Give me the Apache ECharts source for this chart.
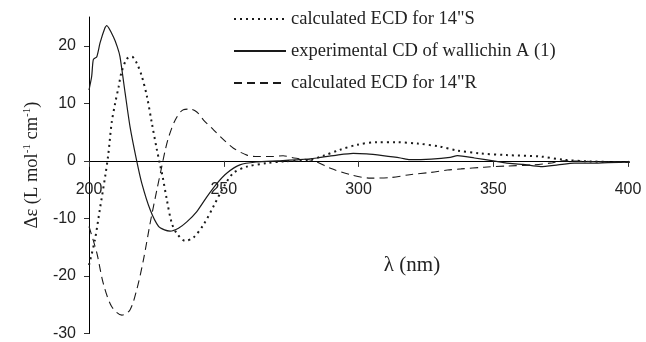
<!DOCTYPE html>
<html>
<head>
<meta charset="utf-8">
<script src="https://cdn.jsdelivr.net/npm/echarts@6/dist/echarts.min.js"></script>
<style>html,body{margin:0;padding:0;background:#fff;}#c{width:646px;height:342px;}</style>
</head>
<body>
<div id="c"></div>
<script>
// ---- data ----
var seriesNames = ['calculated ECD for 14"S', 'experimental CD of wallichin A (1)', 'calculated ECD for 14"R'];
var xTicks = [200, 250, 300, 350, 400];
var yTicks = [-30, -20, -10, 0, 10, 20];

var expX = [200, 201, 201.6, 202.9, 204.1, 205.9, 206.6, 209, 210.5, 211.5, 213.4, 215.2, 217.7, 219.6, 222.7, 225.8, 228, 230.1, 233.2, 236.3, 240, 243.8, 247.5, 251.2, 256, 262, 270, 278, 284.6, 292, 298, 303, 309, 315.6, 319, 327, 334, 336.7, 343, 350, 355, 361, 367.6, 374, 380, 386, 392.5, 401];
var expY = [12.3, 14.7, 17.6, 18.1, 20.5, 23.1, 23.5, 21.6, 19.8, 18.1, 11.8, 6.0, 0.0, -3.9, -8.5, -11.4, -12.0, -12.2, -11.7, -10.6, -8.8, -6.2, -3.9, -2.1, -0.7, -0.2, 0.0, 0.2, 0.5, 1.0, 1.3, 1.2, 0.9, 0.5, 0.2, 0.3, 0.6, 0.9, 0.5, 0.0, -0.4, -0.6, -1.0, -0.7, -0.4, -0.4, -0.3, -0.2];

var sX = [200, 202.2, 204, 206, 207.2, 208.4, 209.7, 211, 212, 214, 215.9, 217.7, 219.6, 221.5, 223.3, 225.2, 226.2, 227.3, 228.9, 230.7, 232.6, 235.7, 238.8, 242.5, 246.2, 250, 253.6, 258.6, 266, 272, 282, 287, 293, 299.5, 307, 314, 322, 330, 336.6, 345, 355, 367.6, 376, 386, 398, 401];
var sY = [-18.1, -13.7, -8.5, -2.7, 1.3, 6.6, 10.0, 12.9, 15.3, 17.7, 18.1, 17.0, 14.7, 11.2, 6.6, 1.9, -0.3, -2.7, -6.8, -10.8, -12.6, -13.9, -13.3, -11.1, -7.9, -4.5, -2.1, -1.0, -0.4, -0.1, 0.2, 0.9, 1.9, 2.8, 3.25, 3.25, 3.0, 2.5, 1.8, 1.3, 1.0, 0.75, 0.2, -0.1, -0.2, -0.2];

var rX = [200, 202.9, 205.3, 208.4, 212.2, 215.2, 217.7, 220.2, 222.7, 225.2, 227, 228.3, 229.6, 232, 235, 237.5, 240, 242.5, 246.2, 250, 253.6, 258.6, 262.3, 268, 272, 276, 283.4, 289.6, 297, 304.5, 312, 319, 327, 333, 338, 346.6, 355, 365, 371, 376, 386, 398, 401];
var rY = [-11.4, -16.0, -21.3, -25.3, -26.8, -25.9, -22.4, -17.2, -10.8, -5.0, -1.0, 1.9, 4.2, 7.1, 8.9, 9.0, 8.5, 7.1, 5.4, 3.65, 2.2, 1.0, 0.75, 0.75, 0.9, 0.5, 0.0, -1.3, -2.4, -3.0, -2.9, -2.4, -2.0, -1.6, -1.4, -1.1, -0.9, -0.7, -0.4, 0.0, -0.1, -0.2, -0.2];

function pairs(xs, ys) { return xs.map(function (x, i) { return [x, ys[i]]; }); }

var chart = echarts.init(document.getElementById('c'), null, {renderer: 'canvas'});
var ink = '#1a1a1a';
var gridTop = 17, gridBottom = 8.5, yMin = -30, yMax = 25;
var plotH = 342 - gridTop - gridBottom;
var zeroFromBottom = plotH * (0 - yMin) / (yMax - yMin);
var option = {
  animation: false,
  backgroundColor: '#fff',
  grid: {left: 89, right: 18, top: gridTop, bottom: gridBottom, containLabel: false, outerBoundsMode: 'none'},
  legend: {
    data: seriesNames,
    orient: 'vertical',
    left: 233,
    top: 9.5,
    padding: 0,
    itemWidth: 52,
    itemHeight: 14,
    itemGap: 13,
    itemStyle: {opacity: 0},
    textStyle: {fontFamily: 'Liberation Serif', fontSize: 18.5, lineHeight: 19, color: '#222', padding: [0, 0, 0, 0]},
    selectedMode: false
  },
  xAxis: {
    type: 'value', min: 200, max: 400, interval: 50,
    position: 'bottom', offset: -zeroFromBottom,
    axisLine: {onZero: false, lineStyle: {color: '#000', width: 1}},
    axisTick: {show: true, length: 6, lineStyle: {color: '#333'}},
    axisLabel: {fontFamily: 'Liberation Sans', fontSize: 16, color: '#222', margin: 21},
    splitLine: {show: false}
  },
  yAxis: {
    type: 'value', min: yMin, max: yMax, interval: 10,
    axisLine: {show: true, lineStyle: {color: '#000', width: 1}},
    axisTick: {show: true, length: 5, lineStyle: {color: '#333'}, customValues: yTicks},
    axisLabel: {fontFamily: 'Liberation Sans', fontSize: 16, color: '#222', margin: 13, customValues: yTicks},
    splitLine: {show: false}
  },
  graphic: [{
    type: 'text', x: 31, y: 165, rotation: Math.PI / 2,
    style: {
      text: '{n|Δε (L mol}{s|-1}{n| cm}{s|-1}{n|)}',
      align: 'center', verticalAlign: 'middle',
      rich: {
        n: {fontFamily: 'Liberation Serif', fontSize: 18.5, fill: '#222', verticalAlign: 'bottom', lineHeight: 22},
        s: {fontFamily: 'Liberation Serif', fontSize: 11, fill: '#222', verticalAlign: 'bottom', lineHeight: 22, padding: [0, 0, 9, 0]}
      }
    }
  }, {
    type: 'text', x: 412, y: 265,
    style: {text: 'λ (nm)', fontFamily: 'Liberation Serif', fontSize: 21, fill: '#222', align: 'center', verticalAlign: 'middle'}
  }],
  series: [
    {name: seriesNames[0], type: 'line', data: pairs(sX, sY), smooth: 0.3, symbol: 'none', showSymbol: false,
     lineStyle: {color: ink, width: 2, type: [2, 4]}, itemStyle: {color: ink}},
    {name: seriesNames[1], type: 'line', data: pairs(expX, expY), smooth: 0.2, symbol: 'none', showSymbol: false,
     lineStyle: {color: ink, width: 1.2, type: 'solid'}, itemStyle: {color: ink}},
    {name: seriesNames[2], type: 'line', data: pairs(rX, rY), smooth: 0.3, symbol: 'none', showSymbol: false,
     lineStyle: {color: ink, width: 1.1, type: [8, 5]}, itemStyle: {color: ink}}
  ]
};
chart.setOption(option);
</script>
</body>
</html>
